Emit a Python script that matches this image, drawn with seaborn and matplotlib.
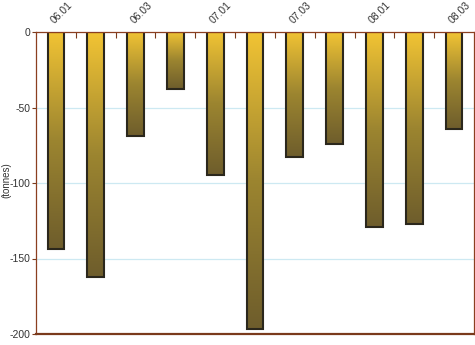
import numpy as np
import pandas as pd
import matplotlib
matplotlib.use("Agg")
import matplotlib.pyplot as plt
import seaborn as sns
from matplotlib.colors import LinearSegmentedColormap

quarters = ["06.01", "06.02", "06.03", "06.04", "07.01", "07.02",
            "07.03", "07.04", "08.01", "08.02", "08.03"]
values = [-144, -162, -69, -38, -95, -197, -83, -74, -129, -127, -64]
shown_labels = ["06.01", "06.03", "07.01", "07.03", "08.01", "08.03"]
y_ticks = [0, -50, -100, -150, -200]

df = pd.DataFrame({"quarter": quarters, "value": values})

sns.set_style("white")
plt.rcParams["font.family"] = ["Liberation Sans", "DejaVu Sans"]

fig = plt.figure(figsize=(4.75, 3.45), dpi=100)
ax = fig.add_axes([36 / 475, 11 / 345, 438 / 475, 302 / 345])

sns.barplot(data=df, x="quarter", y="value", ax=ax, width=0.42,
            color="#d4a830", edgecolor="#2b271c", linewidth=1.5, zorder=3)

cmap = LinearSegmentedColormap.from_list("g", ["#6e5d2c", "#9c8530", "#f2c434"])
grad = np.linspace(0, 1, 256).reshape(-1, 1)
for p in ax.patches:
    x0 = p.get_x()
    w = p.get_width()
    y0 = p.get_y()
    h = p.get_height()
    ylo, yhi = min(y0, y0 + h), max(y0, y0 + h)
    im = ax.imshow(grad, cmap=cmap, origin="lower", aspect="auto",
                   extent=(x0, x0 + w, ylo, yhi), zorder=2.5,
                   interpolation="bicubic")
    im.set_clip_path(p)
    p.set_facecolor("none")

ax.set_xlim(-0.5, len(quarters) - 0.5)
ax.set_ylim(-200, 0)

for yv in [-50, -100, -150]:
    ax.axhline(yv, color="#cde9f2", lw=0.9, zorder=1)

ax.xaxis.tick_top()
pos = [quarters.index(q) for q in shown_labels]
ax.set_xticks(pos)
ax.set_xticklabels(shown_labels, rotation=45, ha="left", va="bottom",
                   fontsize=7.5, color="#333333", rotation_mode="anchor")
ax.tick_params(axis="x", which="major", length=0, pad=5)
ax.set_xticks(np.arange(0.5, len(quarters) - 0.5, 1), minor=True)
ax.tick_params(axis="x", which="minor", top=True, direction="in",
               length=4, color="#7a3a1c", width=0.8)
ax.set_xlabel("")

ax.set_yticks(y_ticks)
ax.set_yticklabels([str(v) for v in y_ticks], fontsize=7.5, color="#333333")
ax.tick_params(axis="y", left=True, direction="out", length=3,
               color="#7a3a1c", width=0.8, pad=1)
ax.set_ylabel("")
fig.text(6 / 475, 1 - 180 / 345, "(tonnes)", rotation=90, fontsize=7,
         color="#333333", ha="center", va="center")

for s in ["left", "right", "top"]:
    ax.spines[s].set_color("#8b3f20")
    ax.spines[s].set_linewidth(0.9)
ax.spines["bottom"].set_color("#7a3a1c")
ax.spines["bottom"].set_linewidth(1.6)
for s in ax.spines.values():
    s.set_visible(True)
    s.set_zorder(5)

fig.savefig("out.png", dpi=100)
